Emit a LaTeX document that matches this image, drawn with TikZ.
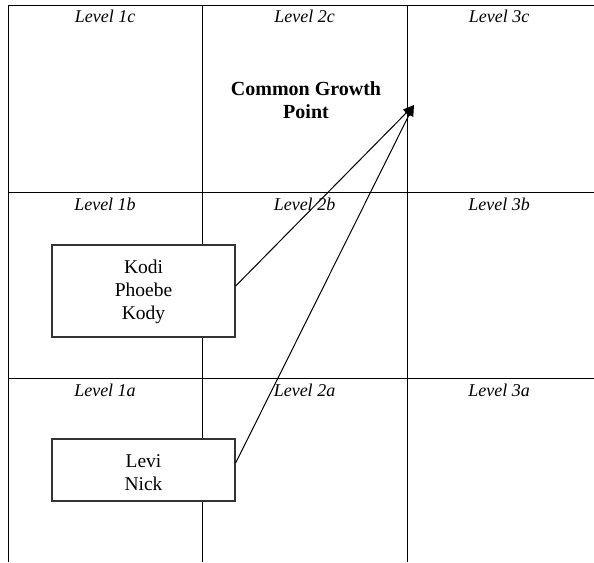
\documentclass[tikz,border=0pt]{standalone}
\usepackage{fontspec}
\setmainfont{Liberation Serif}
\usetikzlibrary{arrows.meta}
\begin{document}
\begin{tikzpicture}[x=1pt,y=-1pt,
  gridline/.style={line width=1pt},
  levellabel/.style={font=\fontsize{18}{22}\selectfont\itshape, anchor=base, inner sep=0pt},
  namebox/.style={draw=black!80, fill=white, line width=1.3pt, minimum width=183pt,
    align=center, inner sep=0pt, font=\fontsize{19.5}{23}\selectfont},
  growthtext/.style={align=center, inner sep=0pt, font=\fontsize{20}{23}\selectfont\bfseries},
  growth/.style={-{Triangle[length=11pt,width=9pt]}, line width=1pt}]
\useasboundingbox (0,0) rectangle (594,562);

% grid of levels
\draw[gridline] (8.5,5) -- (8.5,562);
\draw[gridline] (202,5) -- (202,562);
\draw[gridline] (407,5) -- (407,562);
\draw[gridline] (8,5) -- (594,5);
\draw[gridline] (8,192) -- (594,192);
\draw[gridline] (8,378) -- (594,378);

% level labels
\node[levellabel] (l1c) at (105,23) {Level 1c};
\node[levellabel] (l2c) at (304.5,23) {Level 2c};
\node[levellabel] (l3c) at (499,23) {Level 3c};
\node[levellabel] (l1b) at (105,210) {Level 1b};
\node[levellabel] (l2b) at (304.5,210) {Level 2b};
\node[levellabel] (l3b) at (499,210) {Level 3b};
\node[levellabel] (l1a) at (105,396) {Level 1a};
\node[levellabel] (l2a) at (304.5,396) {Level 2a};
\node[levellabel] (l3a) at (499,396) {Level 3a};

% target label
\node[growthtext] (cgp) at (306,100) {Common Growth\\Point};
\coordinate (tip) at (414,105);

% student groups
\node[namebox, minimum height=92pt] (kb) at (143.5,291) {\rule{0pt}{15pt}Kodi\\Phoebe\\Kody};
\node[namebox, minimum height=62pt] (la) at (143.5,470) {\rule{0pt}{19pt}Levi\\Nick};

% growth arrows
\draw[growth] ([yshift=5pt]kb.east) -- (tip);
\draw[growth] ([yshift=7pt]la.east) -- (tip);
\end{tikzpicture}
\end{document}
